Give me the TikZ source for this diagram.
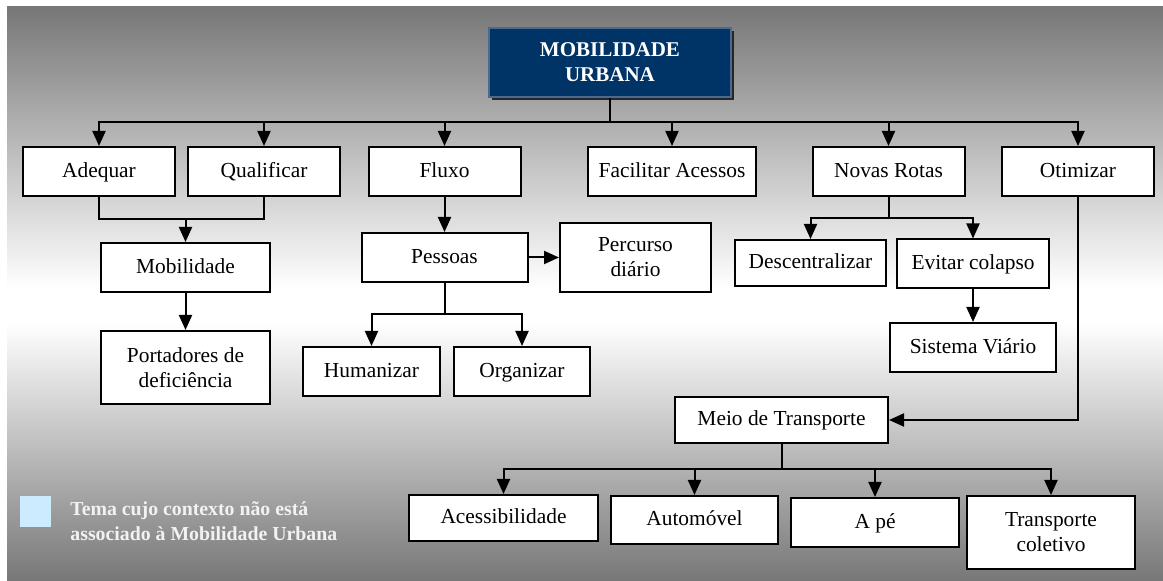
\documentclass[tikz,border=0pt]{standalone}
\usepackage{fontspec}
\setmainfont{Liberation Serif}
\usetikzlibrary{arrows.meta, positioning, shadows}
\definecolor{panelgray}{HTML}{777777}
\definecolor{navy}{HTML}{003366}
\definecolor{navyedge}{HTML}{4A6A8F}
\definecolor{legendblue}{HTML}{CCEBFF}
\definecolor{legendtext}{HTML}{F2F2F2}
\pgfdeclareverticalshading{panelshade}{100bp}{color(0bp)=(panelgray); color(25bp)=(panelgray); color(47.5bp)=(white); color(50.5bp)=(white); color(75bp)=(panelgray); color(100bp)=(panelgray)}

\begin{document}
\begin{tikzpicture}[
  x=0.5pt, y=-0.5pt,
  >={Triangle[width=6.5pt, length=7.5pt]},
  font=\fontsize{10.7}{12.5}\selectfont,
  boxbase/.style={draw, fill=white, line width=1pt, align=center, inner sep=2pt, minimum width=76pt, minimum height=24.5pt},
  box/.style={boxbase, text height=1.55ex, text depth=0.3ex},
  box2/.style={boxbase, minimum height=36.5pt},
  topbox/.style={draw=navyedge, fill=navy, line width=1pt, text=white, align=center,
    font=\bfseries\fontsize{10.5}{12.5}\selectfont, minimum width=121pt, minimum height=34.5pt,
    drop shadow={shadow xshift=1.5pt, shadow yshift=-1.5pt, fill=black!85, opacity=1}},
  arr/.style={->, line width=1pt},
  link/.style={line width=1pt},
  legendtxt/.style={text=legendtext, align=left, inner sep=0pt, font=\bfseries\fontsize{9.9}{12.5}\selectfont}
  ]
  \useasboundingbox (0,0) rectangle (1163,581);
  \shade[shading=panelshade] (7,7) rectangle (1163,581);

  % root and first level
  \node[topbox] (titulo) at (610,62.5) {MOBILIDADE\\URBANA};
  \node[box] (adequar) at (99,171.5) {Adequar};
  \node[box] (qualificar) at (264,171.5) {Qualificar};
  \node[box] (fluxo) at (444.5,171.5) {Fluxo};
  \node[box, minimum width=84pt] (facilitar) at (672,171.5) {Facilitar Acessos};
  \node[box] (novas) at (888.5,171.5) {Novas Rotas};
  \node[box] (otimizar) at (1078,171.5) {Otimizar};

  % second level
  \node[box, minimum width=84.5pt] (mobilidade) at (185.5,267.5) {Mobilidade};
  \node[box2, minimum width=84.5pt] (portadores) at (185.5,367.5) {Portadores de\\deficiência};
  \node[box, minimum width=83pt] (pessoas) at (444.5,257.5) {Pessoas};
  \node[box2, minimum width=75.5pt, minimum height=34.5pt] (percurso) at (635.5,257.5) {Percurso\\diário};
  \node[box, minimum width=68.5pt] (humanizar) at (371.5,371.5) {Humanizar};
  \node[box, minimum width=68pt] (organizar) at (522,371.5) {Organizar};
  \node[box, minimum width=75.5pt, minimum height=23pt] (descentralizar) at (810.5,263) {Descentralizar};
  \node[box] (evitar) at (973,264) {Evitar colapso};
  \node[box, minimum width=83pt] (sistema) at (973,347.5) {Sistema Viário};

  % transport
  \node[box, minimum width=106.5pt, minimum height=23pt] (meio) at (781.5,420) {Meio de Transporte};
  \node[box, minimum width=94.5pt, minimum height=23pt] (acessibilidade) at (503.5,518) {Acessibilidade};
  \node[box, minimum width=83.5pt, minimum height=24pt] (automovel) at (694.5,520) {Automóvel};
  \node[box, minimum width=84pt] (ape) at (875,522.5) {A pé};
  \node[box2, minimum width=84pt] (coletivo) at (1051,532.5) {Transporte\\coletivo};

  % legend
  \node[fill=legendblue, minimum width=15.5pt, minimum height=15.5pt, inner sep=0pt] (legendkey) at (35.5,511.5) {};
  \node[legendtxt, anchor=west] (legendnote) at (70,521) {Tema cujo contexto não está\\associado à Mobilidade Urbana};

  \coordinate (topbus) at (610,122);
  \coordinate (joinam) at (185.5,219);
  \coordinate (pbus) at (444.5,314);
  \coordinate (nbus) at (888.5,218);
  \coordinate (mbus) at (781.5,469);

  \draw[link] (titulo.south) -- (topbus);
  \draw[arr] (topbus) -| (adequar.north);
  \draw[arr] (topbus) -| (qualificar.north);
  \draw[arr] (topbus) -| (fluxo.north);
  \draw[arr] (topbus) -| (facilitar.north);
  \draw[arr] (topbus) -| (novas.north);
  \draw[arr] (topbus) -| (otimizar.north);

  \draw[link] (adequar.south) |- (joinam) -| (qualificar.south);
  \draw[arr] (joinam) -- (mobilidade.north);
  \draw[arr] (mobilidade) -- (portadores);

  \draw[arr] (fluxo) -- (pessoas);
  \draw[arr] (pessoas) -- (percurso);
  \draw[link] (pessoas.south) -- (pbus);
  \draw[arr] (pbus) -| (humanizar.north);
  \draw[arr] (pbus) -| (organizar.north);

  \draw[link] (novas.south) -- (nbus);
  \draw[arr] (nbus) -| (descentralizar.north);
  \draw[arr] (nbus) -| (evitar.north);
  \draw[arr] (evitar) -- (sistema);

  \draw[arr] (otimizar.south) |- (meio.east);
  \draw[link] (meio.south) -- (mbus);
  \draw[arr] (mbus) -| (acessibilidade.north);
  \draw[arr] (mbus) -| (automovel.north);
  \draw[arr] (mbus) -| (ape.north);
  \draw[arr] (mbus) -| (coletivo.north);
\end{tikzpicture}
\end{document}
